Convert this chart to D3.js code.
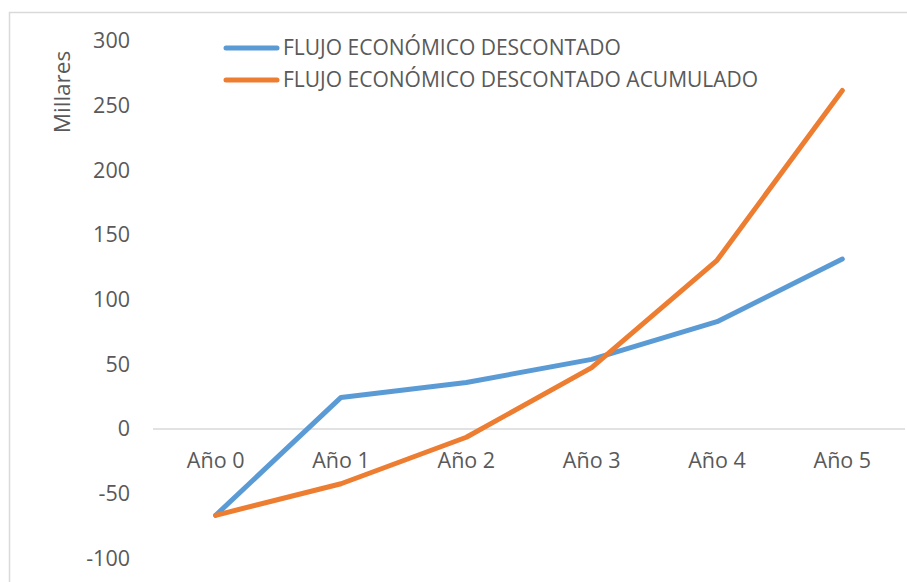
<!DOCTYPE html>
<html>
<head>
<meta charset="utf-8">
<script src="https://cdn.jsdelivr.net/npm/d3@7"></script>
<style>
  html, body { margin: 0; padding: 0; background: #fff; }
  svg { display: block; font-family: "Open Sans", sans-serif; }
</style>
</head>
<body>
<svg id="chart" width="907" height="582"></svg>
<script>
// Años del proyecto
const categories = ["Año 0", "Año 1", "Año 2", "Año 3", "Año 4", "Año 5"];
// Flujo económico descontado (miles)
const flujoDescontado = [-66.7, 24.4, 35.9, 53.8, 82.9, 131.3];
// Flujo económico descontado acumulado (miles)
const flujoAcumulado = [-66.7, -42.3, -6.4, 47.4, 130.3, 261.6];
const yTicks = [-100, -50, 0, 50, 100, 150, 200, 250, 300];
const seriesNames = ["FLUJO ECONÓMICO DESCONTADO", "FLUJO ECONÓMICO DESCONTADO ACUMULADO"];
const seriesColors = ["#5B9BD5", "#ED7D31"];

const svg = d3.select("#chart");
const textColor = "#595959";

// Chart frame
svg.append("rect")
  .attr("x", 9.5).attr("y", 12.5)
  .attr("width", 960).attr("height", 640)
  .attr("fill", "#fff").attr("stroke", "#d9d9d9").attr("stroke-width", 1.5);

const plot = { left: 153, right: 905, top: 40.7, bottom: 558.4 };

const x = d3.scaleBand().domain(categories).range([plot.left, plot.right]);
const y = d3.scaleLinear().domain([-100, 300]).range([plot.bottom, plot.top]);

// Y axis labels (no axis line), plain hyphen for negatives
const yAxis = d3.axisLeft(y).tickValues(yTicks).tickSize(0).tickPadding(0)
  .tickFormat(d => String(d));
const gy = svg.append("g").attr("transform", "translate(130,0)").call(yAxis);
gy.select(".domain").remove();
gy.selectAll("text")
  .attr("fill", textColor)
  .style("font-size", "21.5px")
  .style("font-family", "'Open Sans', sans-serif");

// Horizontal axis at zero
svg.append("line")
  .attr("x1", plot.left).attr("x2", plot.right)
  .attr("y1", y(0)).attr("y2", y(0))
  .attr("stroke", "#d9d9d9").attr("stroke-width", 1.5);

// Category labels
const xAxis = d3.axisBottom(x).tickSize(0).tickPadding(0);
const gx = svg.append("g").attr("transform", `translate(0,${y(0) + 20})`).call(xAxis);
gx.select(".domain").remove();
gx.selectAll("text")
  .attr("fill", textColor)
  .attr("dy", "0.32em")
  .attr("y", 12)
  .style("font-size", "21.5px")
  .style("font-family", "'Open Sans', sans-serif");

// Axis title
svg.append("text")
  .attr("transform", `translate(70,92) rotate(-90)`)
  .attr("text-anchor", "middle")
  .attr("fill", textColor)
  .style("font-size", "22.5px")
  .text("Millares");

// Series lines
const line = d3.line()
  .x((d, i) => x(categories[i]) + x.bandwidth() / 2)
  .y(d => y(d));

[flujoDescontado, flujoAcumulado].forEach((vals, k) => {
  svg.append("path")
    .datum(vals)
    .attr("d", line)
    .attr("fill", "none")
    .attr("stroke", seriesColors[k])
    .attr("stroke-width", 5)
    .attr("stroke-linejoin", "round")
    .attr("stroke-linecap", "round");
});

// Legend
const legendY = [48, 80];
seriesNames.forEach((name, k) => {
  svg.append("line")
    .attr("x1", 226).attr("x2", 277)
    .attr("y1", legendY[k]).attr("y2", legendY[k])
    .attr("stroke", seriesColors[k])
    .attr("stroke-width", 5)
    .attr("stroke-linecap", "round");
  svg.append("text")
    .attr("x", 283).attr("y", legendY[k])
    .attr("dy", "0.35em")
    .attr("fill", textColor)
    .style("font-size", "21px")
    .text(name);
});
</script>
</body>
</html>
